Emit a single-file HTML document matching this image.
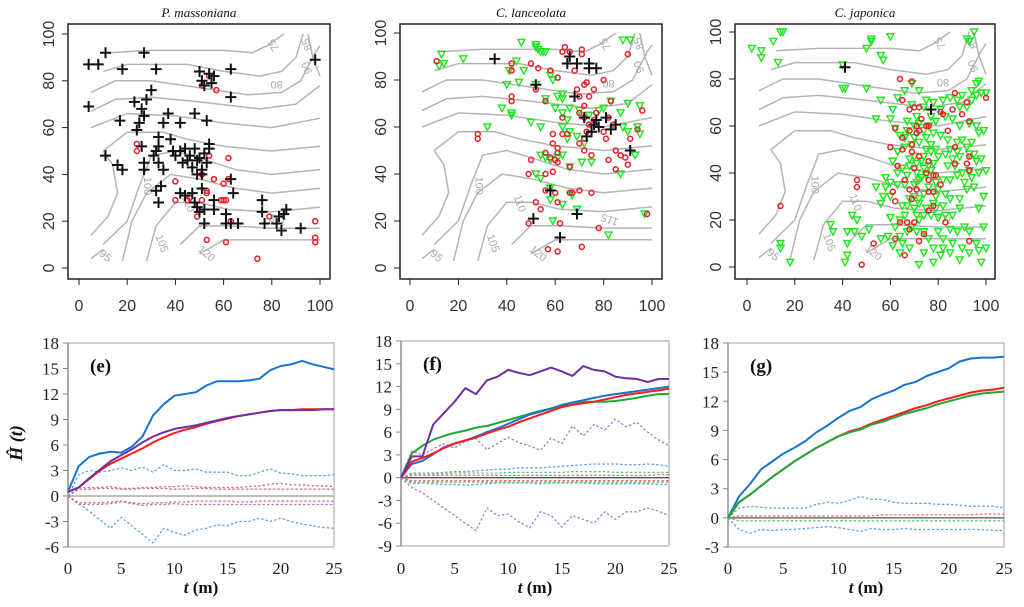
<!DOCTYPE html>
<html><head><meta charset="utf-8">
<style>
html,body{margin:0;padding:0;background:#fff;}
svg{display:block;}
.tk{font-family:"Liberation Sans",sans-serif;font-size:16px;fill:#333;}
.bt{font-family:"Liberation Serif",serif;font-size:17px;fill:#222;}
</style></head>
<body>
<svg id="fig" width="1024" height="607" viewBox="0 0 1024 607" xmlns="http://www.w3.org/2000/svg"></svg>
<script>
// ---------- scatter data (flat x,y pairs, plot coords 0-100) ----------
const p1Cross=[4,87,8,87,11,92,27,92,18,85,32,85,4,69,23,71,28,72,30,76,26,68,27,65,17,63,24,59,25,62,35,62,37,66,42,62,48,66,53,63,11,48,16,44,18,42,26,52,27,45,27,42,33,56,33,52,31,48,33,45,35,42,32,50,38,55,39,50,40,48,42,50,43,45,45,46,44,51,46,48,47,43,48,51,49,46,50,47,51,42,49,40,51,40,52,49,53,45,54,53,54,51,32,33,33,28,34,35,42,32,44,31,47,32,48,28,49,26,50,24,51,34,52,25,52,19,56,29,56,25,61,23,63,38,64,32,61,19,63,19,66,19,63,85,63,73,50,84,51,80,52,78,54,83,55,79,56,82,76,29,76,24,77,19,82,19,83,22,85,23,86,25,84,16,92,17,98,89];
const p1Red=[24,53,24,50,40,37,40,29,45,29,46,30,49,22,51,29,53,33,53,32,56,38,60,36,59,29,60,29,61,29,62,47,62,38,63,20,53,12,61,11,74,4,79,22,98,20,98,13,98,11,51,40,54,48,54,82,57,76,51,78];
const p2Green=[13,91,12,86,14,87,22,89,46,96,52,95,52,94,53,93,55,92,56,92,54,92,44,88,41,84,47,84,40,78,45,79,52,78,56,72,58,82,59,80,61,73,63,74,63,72,38,68,42,66,42,65,32,60,50,62,54,60,60,68,63,66,66,68,63,60,65,63,66,58,65,55,70,67,74,65,78,67,80,68,83,71,87,66,90,70,95,69,88,60,90,58,94,60,95,57,93,48,87,40,54,48,56,47,58,46,61,47,63,48,66,43,71,45,75,45,52,40,54,38,58,34,58,29,67,31,63,27,69,25,59,20,82,14,88,97,91,97,97,23,72,53,69,56];
const p2Red=[11,88,28,57,28,55,42,87,42,84,42,73,42,71,50,87,52,76,53,85,56,71,58,84,61,81,64,94,63,92,66,92,68,84,71,93,71,91,69,76,72,78,73,79,76,76,80,80,70,73,74,73,72,69,70,66,72,64,74,61,76,63,77,66,73,58,72,55,70,53,72,50,75,48,80,58,81,55,83,71,82,64,84,61,85,50,87,48,89,47,91,55,94,59,90,44,96,67,85,42,82,46,63,64,63,57,65,57,59,57,59,53,61,51,61,49,56,49,58,47,60,46,61,45,56,40,59,41,66,43,50,46,49,40,56,33,60,32,66,32,67,32,70,33,75,32,52,28,54,25,61,28,62,19,49,19,78,17,71,9,57,8,61,7,98,23,90,91];
const p2Cross=[35,89,66,90,65,87,69,87,74,87,74,85,77,85,52,78,68,73,72,64,77,63,76,61,75,58,78,60,73,56,81,64,85,61,83,59,91,50,58,33,69,23,51,21,62,13];
const p3Green=[14,100,15,100,11,96,2,93,6,92,6,89,13,87,50,93,52,97,52,96,56,90,57,88,60,98,40,86,40,76,41,76,50,76,95,100,92,97,93,96,14,10,14,8,18,2,35,18,36,15,42,10,42,5,41,2,44,22,46,20,45,15,48,13,51,16,54,34,56,27,57,30,58,34,56,12,59,13,61,9,64,6,60,36,64,20,67,26,68,29,70,25,71,22,72,29,72,20,72,1,74,15,76,12,78,8,78,2,81,5,80,15,82,12,85,16,88,15,86,22,89,25,91,17,93,15,96,10,97,7,100,8,98,2,99,17,97,25,99,30,95,34,92,33,89,29,85,29,82,26,79,30,79,36,82,37,85,37,88,39,90,40,93,41,97,40,100,41,98,46,95,48,93,48,89,47,86,46,83,48,80,47,77,49,74,47,71,44,68,43,65,42,63,40,61,45,63,49,66,51,69,52,72,53,75,55,78,57,81,56,84,54,88,53,90,54,94,53,97,57,99,58,96,60,93,61,89,60,86,63,83,64,81,67,78,70,75,71,72,75,69,78,66,75,63,72,61,67,60,63,62,59,64,56,67,58,70,60,72,61,74,58,76,60,79,62,82,71,85,72,88,71,90,73,94,75,96,78,97,79,98,74,100,74,96,73,94,71,92,68,89,68,56,71,54,63,58,38,60,30,63,35,66,35,70,35,72,37,75,39,77,41,74,42,71,40,67,39,65,26,69,17,67,15,71,15,74,22,77,22,79,25,83,22,90,8,93,6,89,3,85,6,82,8,86,10,74,6,68,8,65,10,42,15,73,45,76,43,78,44,70,47,68,46,75,50,77,52,79,50,73,38,71,36,76,34,74,31,70,30,72,27,75,25,78,27,80,21,66,22,62,17,64,13,60,21,67,62,71,64,69,69,74,68,77,64,66,55,70,55,84,43,87,43,91,36,94,38,96,45,85,50,88,49,92,51,83,31,80,33];
const p3Red=[14,26,46,37,46,34,48,1,53,10,60,51,63,43,62,28,61,32,64,19,62,12,66,5,64,80,65,71,69,79,68,67,70,68,72,68,73,63,75,60,76,60,72,58,68,58,71,60,62,59,65,55,65,50,69,52,69,49,72,47,76,45,70,42,66,37,68,33,71,33,69,29,67,19,68,16,70,19,72,11,74,14,76,24,78,26,76,32,78,32,75,40,76,37,78,39,79,39,81,35,84,58,82,65,81,66,86,67,87,74,90,65,92,70,93,62,100,72,87,51,87,44,92,44,93,41,93,47,83,19,93,11,71,57];
const p3Cross=[41,85,77,67];
// contour lines (shared topography, plot coords)
const contours=[
 [12,92,30,93,60,93,72,92,78,95,85,100],
 [10,84,20,87,45,87,60,84,75,82,84,84,90,90,93,100],
 [5,75,15,80,30,80,50,77,70,74,84,75,92,80,98,92,100,95],
 [5,67,15,72,30,73,50,71,75,68,90,70,100,78],
 [5,60,20,66,40,65,60,62,80,60,100,64],
 [10,50,20,58,35,58,45,55,60,52,80,50,100,52],
 [10,10,20,20,25,35,30,48,40,50,50,47,65,42,80,40,100,42],
 [18,3,22,20,28,32,38,40,50,38,65,34,80,32,100,34],
 [28,3,32,18,40,28,50,28,62,25,80,24,100,26],
 [42,10,50,18,62,18,80,17,100,17],
 [50,6,60,12,80,12,100,12],
 [5,14,12,22,16,32,14,44,10,50],
 [5,4,10,8],
 [95,100,97,90,100,82]
];
const contourLabels=[["75",82,96,-120],["85",96,96,-110],["80",82,80,180],["90",96,86,-110],["100",27,35,90],["110",44,27,70],["105",33,10,70],["120",52,5,40],["95",10,4,40],["115",83,22,-160]];
// ---------- line chart data ----------
const tAxis=[0,1,2,3,4,5,6,7,8,9,10,11,12,13,14,15,16,17,18,19,20,21,22,23,24,25];
const yTicksE=[18,15,12,9,6,3,0,-3,-6];
const yTicksF=[18,15,12,9,6,3,0,-3,-6,-9];
const yTicksG=[18,15,12,9,6,3,0,-3];
const xTicks=[0,5,10,15,20,25];
const eBlue=[0.5,3.5,4.6,5,5.2,5.1,5.8,7,9.5,10.8,11.8,12,12.2,13,13.5,13.5,13.5,13.6,13.8,14.8,15.3,15.5,15.9,15.5,15.2,14.9];
const eRed=[0.5,1,2,3,3.8,4.4,5,5.6,6.3,6.9,7.4,7.8,8.1,8.5,8.8,9.1,9.4,9.6,9.8,10,10.1,10.1,10.2,10.2,10.2,10.2];
const ePurple=[0.5,1,2.1,3.1,4.1,4.8,5.5,6.3,7,7.5,7.9,8.1,8.3,8.6,8.9,9.2,9.4,9.6,9.8,10,10.1,10.1,10.1,10.1,10.2,10.2];
const eBlueHi=[0,2.5,3,2.8,3,3.3,3,3.4,2.8,3.7,3,3,3.2,2.8,2.8,2.8,2.4,2.4,2.8,3.2,2.7,2.6,2.4,2.4,2.4,2.5];
const eBlueLo=[0,-0.9,-1.8,-2.8,-3.8,-2.5,-3.5,-4.5,-5.5,-3.8,-4.3,-4.6,-4,-3.8,-3.4,-3.5,-3,-3,-2.6,-3,-2.6,-3,-3.3,-3.5,-3.7,-3.8];
const eRedHi=[0,0.8,0.8,0.9,0.9,0.8,0.8,0.9,0.9,0.9,0.8,0.8,0.9,0.9,0.8,0.8,0.8,0.8,0.8,0.8,0.8,0.8,0.8,0.8,0.8,0.8];
const ePurpleHi=[0,1,1,1,1.1,0.9,0.9,1,1,1.1,1.1,1.2,1.1,1,1,1,1,1.1,1.2,1.4,1.5,1.3,1.3,1.2,1.2,1.1];
const eRedLo=[0,-0.8,-0.8,-0.8,-0.7,-0.6,-0.8,-0.9,-0.8,-0.8,-0.7,-0.7,-0.6,-0.6,-0.6,-0.6,-0.7,-0.7,-0.6,-0.6,-0.6,-0.6,-0.6,-0.6,-0.6,-0.6];
const ePurpleLo=[0,-1,-1,-1,-0.9,-0.7,-0.9,-1.1,-1,-1,-0.9,-1,-1,-1,-1,-1,-1,-1,-1,-1,-1,-1,-1,-1,-1,-1];
const fPurple=[0,2.8,2.8,7,8.5,10,11.8,11,12.8,13.3,14.2,13.8,13.5,14,14.5,14,13.4,14.7,14.2,14,13.3,13.1,13,12.6,13,13];
const fGreen=[0,3.2,4.2,5,5.5,5.9,6.2,6.6,6.8,7.2,7.6,8,8.4,8.8,9.1,9.6,9.9,10,10,10,10.1,10.3,10.5,10.8,11,11];
const fBlue=[0,1.8,2.2,3.1,4,4.5,4.9,5.4,6,6.5,7.1,7.7,8.3,8.7,9.1,9.5,9.9,10.2,10.5,10.8,11,11.2,11.4,11.6,11.8,12];
const fRed=[0,2.1,2.6,3.2,3.9,4.5,4.9,5.3,5.8,6.3,6.7,7.3,7.8,8.3,8.8,9.3,9.6,9.8,10,10.3,10.6,10.9,11.1,11.3,11.5,11.7];
const fPurpleHi=[0,3.5,3,3.8,4.5,3.9,4.8,5.2,3.7,4.5,5.3,4.6,4.2,3.6,5.2,4.5,6.8,5.5,7,6.3,7.7,6.7,7.3,6,5,4.2];
const fPurpleLo=[0,-1.3,-2,-3,-4,-5,-6,-7,-4,-5,-4.8,-5.8,-6.6,-4.5,-5,-6.5,-5,-5.5,-6,-4.5,-5.5,-4.5,-4.5,-4,-4.4,-5];
const fBlueHi=[0,0.6,0.6,0.6,0.7,0.8,0.8,0.9,1,1.1,1.1,1.3,1.3,1.3,1.4,1.5,1.6,1.7,1.8,1.8,1.8,1.7,1.7,1.8,1.7,1.5];
const fBlueLo=[0,-0.8,-0.7,-0.8,-0.9,-0.9,-1,-0.9,-0.8,-0.7,-0.7,-0.7,-0.7,-0.8,-0.7,-0.7,-0.7,-0.7,-0.8,-0.8,-0.8,-0.8,-0.8,-0.8,-0.9,-0.9];
const fGreenHi=[0,0.5,0.5,0.5,0.5,0.6,0.6,0.6,0.6,0.6,0.7,0.7,0.7,0.7,0.7,0.7,0.8,0.8,0.8,0.8,0.7,0.7,0.7,0.7,0.7,0.7];
const fGreenLo=[0,-0.6,-0.6,-0.6,-0.6,-0.6,-0.6,-0.6,-0.6,-0.6,-0.6,-0.6,-0.6,-0.6,-0.6,-0.6,-0.6,-0.6,-0.6,-0.6,-0.6,-0.6,-0.6,-0.6,-0.6,-0.6];
const fRedHi=[0,0.3,0.3,0.3,0.3,0.3,0.3,0.3,0.3,0.3,0.3,0.3,0.3,0.3,0.3,0.3,0.3,0.3,0.3,0.3,0.3,0.3,0.3,0.3,0.4,0.4];
const fRedLo=[0,-0.4,-0.4,-0.4,-0.4,-0.4,-0.4,-0.4,-0.4,-0.4,-0.4,-0.4,-0.4,-0.4,-0.4,-0.4,-0.4,-0.4,-0.4,-0.4,-0.4,-0.4,-0.4,-0.4,-0.4,-0.4];
const gBlue=[0,2.2,3.5,5,5.8,6.6,7.2,7.9,8.8,9.5,10.3,11,11.4,12.2,12.7,13.1,13.7,14,14.6,15,15.4,16.1,16.4,16.5,16.5,16.6];
const gRed=[0,1.6,2.4,3.3,4.2,5,5.8,6.5,7.2,7.8,8.4,8.9,9.2,9.7,10.1,10.5,10.9,11.3,11.6,12,12.3,12.6,12.9,13.1,13.2,13.4];
const gGreen=[0,1.6,2.4,3.3,4.2,5,5.8,6.5,7.2,7.8,8.4,8.8,9.1,9.6,9.9,10.3,10.7,11,11.3,11.7,12,12.3,12.6,12.8,12.9,13];
const gBlueHi=[0,1,1.2,1.1,1,1,1,1,1.4,1.6,1.5,1.8,2.2,1.9,1.9,1.6,1.5,1.5,1.5,1.4,1.4,1.3,1.2,1.2,1.2,1];
const gBlueLo=[0,-1.2,-1.6,-1.2,-1.3,-1.2,-1.2,-1.1,-1,-0.9,-1,-1.2,-1.4,-1.1,-1.2,-1.2,-1.1,-1.2,-1.2,-1.2,-1.2,-1.2,-1.2,-1.2,-1.3,-1.3];
const gRedHi=[0,0.2,0.2,0.2,0.2,0.2,0.2,0.2,0.2,0.2,0.2,0.2,0.2,0.2,0.3,0.3,0.3,0.3,0.3,0.3,0.3,0.3,0.3,0.4,0.4,0.4];
const gGreenLo=[0,-0.3,-0.3,-0.3,-0.3,-0.3,-0.3,-0.3,-0.3,-0.3,-0.3,-0.3,-0.3,-0.3,-0.3,-0.3,-0.3,-0.3,-0.3,-0.3,-0.3,-0.3,-0.3,-0.3,-0.3,-0.3];

const NS="http://www.w3.org/2000/svg";
const svg=document.getElementById('fig');
function mk(tag,attrs,parent){const e=document.createElementNS(NS,tag);for(const k in attrs)e.setAttribute(k,attrs[k]);(parent||svg).appendChild(e);return e;}

// ---------- top map panels ----------
const maps=[
 {title:"P.  massoniana",fx0:68,fx1:330,fy0:24,fy1:279,x0:79,x1:320,y0:268,y1:34,cross:p1Cross,red:p1Red,green:[]},
 {title:"C.  lanceolata",fx0:400,fx1:662,fy0:24,fy1:279,x0:410,x1:652,y0:268,y1:33,cross:p2Cross,red:p2Red,green:p2Green},
 {title:"C.  japonica",fx0:735,fx1:995,fy0:24,fy1:279,x0:747,x1:986,y0:267,y1:32,cross:p3Cross,red:p3Red,green:p3Green}
];
maps.forEach((m,i)=>{
 const g=mk('g',{});
 
 
 const X=v=>m.x0+(m.x1-m.x0)*v/100, Y=v=>m.y0+(m.y1-m.y0)*v/100;
 const t=mk('text',{x:(m.fx0+m.fx1)/2,y:17,'text-anchor':'middle','font-family':'Liberation Serif,serif','font-style':'italic','font-size':'13',fill:'#111'},g);
 t.textContent=m.title;
 
 
 contours.forEach(c=>{let d='';for(let k=0;k<c.length;k+=2)d+=(k?'L':'M')+X(c[k]).toFixed(1)+','+Y(c[k+1]).toFixed(1);
  const p=mk('path',{d:d,fill:'none',stroke:'#b4b4b4','stroke-width':'1.5'},g);
  
  });
 contourLabels.forEach(l=>{const tx=mk('text',{x:X(l[1]),y:Y(l[2]),'font-family':'Liberation Sans,sans-serif','font-size':'11',fill:'#aaa','text-anchor':'middle',transform:'rotate('+l[3]+' '+X(l[1])+' '+Y(l[2])+')'},g);tx.textContent=l[0];
  
  });
 for(let k=0;k<m.green.length;k+=2){const x=X(m.green[k]),y=Y(m.green[k+1]);
  const p=mk('path',{d:`M${x-3.5},${y-3}L${x+3.5},${y-3}L${x},${y+3.5}Z`,fill:'none',stroke:'#1ee61e','stroke-width':'1.4'},g);
  
  }
 for(let k=0;k<m.red.length;k+=2){
  const c=mk('circle',{cx:X(m.red[k]),cy:Y(m.red[k+1]),r:2.5,fill:'none',stroke:'#e8202a','stroke-width':'1.5'},g);
  
  }
 for(let k=0;k<m.cross.length;k+=2){const x=X(m.cross[k]),y=Y(m.cross[k+1]);
  const p=mk('path',{d:`M${x-5.5},${y}H${x+5.5}M${x},${y-5.5}V${y+5.5}`,stroke:'#111','stroke-width':'2'},g);
  
  }
 const fr=mk('rect',{x:m.fx0,y:m.fy0,width:m.fx1-m.fx0,height:m.fy1-m.fy0,fill:'none',stroke:'#222','stroke-width':'1.5'},g);
 
 
 [0,20,40,60,80,100].forEach(v=>{
  mk('line',{x1:X(v),x2:X(v),y1:m.fy1,y2:m.fy1+6,stroke:'#222'},g);
  const tx=mk('text',{x:X(v),y:311,'text-anchor':'middle',class:'tk'},g);tx.textContent=v;
  
  
  mk('line',{x1:m.fx0-6,x2:m.fx0,y1:Y(v),y2:Y(v),stroke:'#222'},g);
  const ty=mk('text',{x:m.fx0-14,y:Y(v),'text-anchor':'middle',class:'tk',transform:`rotate(-90 ${m.fx0-14} ${Y(v)})`},g);ty.textContent=v;
  
  
 });
});

// ---------- bottom line charts ----------
const BLUE='#1874cd',RED='#ff1a1a',PURPLE='#7030a0',GREEN='#1fa83a';
const LBLUE='#5aa5e0',LRED='#f06a6a',LPURPLE='#a77bd0',LGREEN='#60c878';
const charts=[
 {lab:"(e)",x0:68,x1:334,yTop:343,yBot:547,ymax:18,ymin:-6,ticks:yTicksE,zero:'#999',
  series:[[eBlueLo,LBLUE,1],[eBlueHi,LBLUE,1],[eRedHi,LRED,1],[ePurpleHi,LPURPLE,1],[eRedLo,LRED,1],[ePurpleLo,LPURPLE,1],[eBlue,BLUE,0],[eRed,RED,0],[ePurple,PURPLE,0]]},
 {lab:"(f)",x0:401,x1:669,yTop:341,yBot:546,ymax:18,ymin:-9,ticks:yTicksF,zero:'#555',
  series:[[fPurpleHi,LPURPLE,1],[fPurpleLo,LPURPLE,1],[fBlueHi,LBLUE,1],[fBlueLo,LBLUE,1],[fGreenHi,LGREEN,1],[fGreenLo,LGREEN,1],[fRedHi,LRED,1],[fRedLo,LRED,1],[fGreen,GREEN,0],[fBlue,BLUE,0],[fRed,RED,0],[fPurple,PURPLE,0]]},
 {lab:"(g)",x0:728,x1:1004,yTop:343,yBot:547,ymax:18,ymin:-3,ticks:yTicksG,zero:'#555',
  series:[[gBlueHi,LBLUE,1],[gBlueLo,LBLUE,1],[gRedHi,LRED,1],[gGreenLo,LGREEN,1],[gBlue,BLUE,0],[gRed,RED,0],[gGreen,GREEN,0]]}
];
charts.forEach((c,i)=>{
 const g=mk('g',{});
 
 
 const X=t=>c.x0+(c.x1-c.x0)*t/25, Y=v=>c.yBot-(c.yBot-c.yTop)*(v-c.ymin)/(c.ymax-c.ymin);
 const fr=mk('rect',{x:c.x0,y:c.yTop,width:c.x1-c.x0,height:c.yBot-c.yTop,fill:'none',stroke:'#b0b0b0','stroke-width':'1.2'},g);
 
 
 mk('line',{x1:c.x0,x2:c.x0,y1:c.yTop,y2:c.yBot,stroke:'#888','stroke-width':'1.3'},g);
 const z=mk('line',{x1:c.x0,x2:c.x1,y1:Y(0),y2:Y(0),stroke:c.zero,'stroke-width':'1.3'},g);
 
 
 c.ticks.forEach(v=>{
  mk('line',{x1:c.x0-5,x2:c.x0,y1:Y(v),y2:Y(v),stroke:'#888'},g);
  const tx=mk('text',{x:c.x0-9,y:Y(v)+6,'text-anchor':'end',class:'bt'},g);tx.textContent=v;
  
  
 });
 xTicks.forEach(v=>{
  const tx=mk('text',{x:X(v),y:574,'text-anchor':'middle',class:'bt'},g);tx.textContent=v;
  
  
 });
 c.series.forEach(s=>{
  let d='';s[0].forEach((v,k)=>{d+=(k?'L':'M')+X(tAxis[k]).toFixed(1)+','+Y(v).toFixed(1);});
  const p=mk('path',{d:d,fill:'none',stroke:s[1],'stroke-width':s[2]?1.3:2,'stroke-dasharray':s[2]?'2.5,2':'none','stroke-linejoin':'round'},g);
  
  
 });
 const lb=mk('text',{x:c.x0+22,y:c.yTop+29,'font-family':'Liberation Serif,serif','font-weight':'bold','font-size':'19',fill:'#111'},g);
 lb.textContent=c.lab;
 
 
 const xt=mk('text',{x:(c.x0+c.x1)/2,y:593,'text-anchor':'middle','font-family':'Liberation Serif,serif','font-weight':'bold','font-size':'17',fill:'#111'},g);
 xt.innerHTML='<tspan font-style="italic">t</tspan> (m)';
 
 
});
const yt=mk('text',{x:22,y:443,'text-anchor':'middle','font-family':'Liberation Serif,serif','font-weight':'bold','font-style':'italic','font-size':'18',fill:'#111',transform:'rotate(-90 22 443)'});
yt.textContent='Ĥ (t)';


</script>
</body></html>
